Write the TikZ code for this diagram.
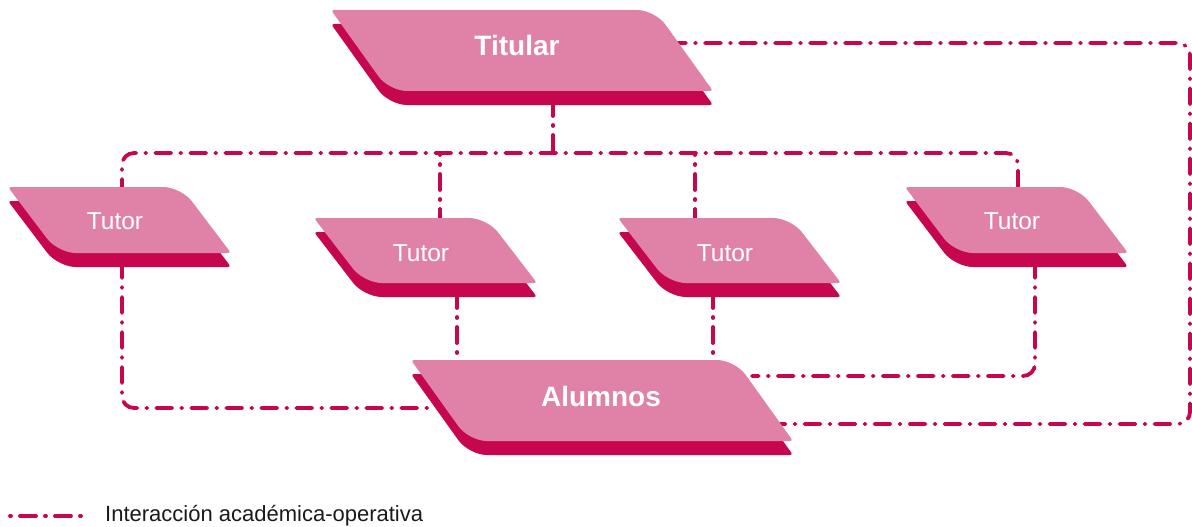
\documentclass[tikz,border=0pt]{standalone}
\usepackage{fontspec}
\setmainfont{Liberation Sans}
\definecolor{face}{HTML}{E082A7}
\definecolor{deep}{HTML}{C6064F}
\definecolor{ink}{HTML}{1A1A1A}
\tikzset{
  conn/.style={draw=deep, line width=3.8pt, line cap=round,
    dash pattern=on 16pt off 9pt on 1pt off 9pt, rounded corners=12pt},
  bigtxt/.style={text=white, font=\fontsize{28}{30}\selectfont\bfseries, inner sep=0pt},
  smalltxt/.style={text=white, font=\fontsize{24.5}{26}\selectfont, inner sep=0pt},
  legtxt/.style={text=ink, font=\fontsize{22}{24}\selectfont, inner sep=0pt, anchor=west}
}
% #1 x, #2 y (top), #3 top edge length, #4 height, #5 slant, #6 depth
\newcommand\paral[6]{%
  \fill[deep] ({#1+#3/2},{#2+#6}) [rounded corners=18pt] -- ({#1+#3},{#2+#6})
    [rounded corners=3pt] -- ({#1+#3+#5},{#2+#4+#6})
    [rounded corners=18pt] -- ({#1+#5},{#2+#4+#6})
    [rounded corners=3pt] -- ({#1},{#2+#6}) -- cycle;
  \fill[face] ({#1+#3/2},{#2}) [rounded corners=18pt] -- ({#1+#3},{#2})
    [rounded corners=3pt] -- ({#1+#3+#5},{#2+#4})
    [rounded corners=18pt] -- ({#1+#5},{#2+#4})
    [rounded corners=3pt] -- ({#1},{#2}) -- cycle;
}
\begin{document}
\begin{tikzpicture}[x=1pt, y=-1pt]
\useasboundingbox (0,0) rectangle (1192,527);
% connector anchor points
\coordinate (titS) at (553,100);
\coordinate (titE) at (670,43);
\coordinate (bus) at (553,153);
\coordinate (t1N) at (122,195);
\coordinate (t2N) at (440,225);
\coordinate (t3N) at (695,225);
\coordinate (t4N) at (1018,195);
\coordinate (t1S) at (122,262);
\coordinate (t2S) at (457,292);
\coordinate (t3S) at (713,292);
\coordinate (t4S) at (1035,262);
\coordinate (aluN2) at (457,368);
\coordinate (aluN3) at (713,368);
\coordinate (aluW) at (436,408);
\coordinate (aluE1) at (752,376);
\coordinate (aluE2) at (778,424);
\coordinate (farR) at (1190,43);
\coordinate (farRB) at (1190,424);
\coordinate (legA) at (10,516);
\coordinate (legB) at (81,516);
% connectors
\draw[conn] (t1N) |- (bus) -| (t4N);
\draw[conn] (titS) -- (bus);
\draw[conn] (t2N) -- (t2N |- bus);
\draw[conn] (t3N) -- (t3N |- bus);
\draw[conn] (t1S) |- (aluW);
\draw[conn] (t2S) -- (aluN2);
\draw[conn] (t3S) -- (aluN3);
\draw[conn] (t4S) |- (aluE1);
\draw[conn] (titE) -- (farR) -- (farRB) -- (aluE2);
% shapes
\paral{331}{10}{324}{81}{58}{14}
\paral{411}{360}{324}{81}{58}{14}
\paral{8}{187}{173}{66}{50}{14}
\paral{314}{218}{173}{65}{50}{14}
\paral{618}{218}{173}{65}{50}{14}
\paral{905}{187}{173}{66}{50}{14}
% labels
\node[bigtxt] (tit) at (517,45) {Titular};
\node[bigtxt] (alu) at (601,396) {Alumnos};
\node[smalltxt] (tut1) at (115,221) {Tutor};
\node[smalltxt] (tut2) at (421,253) {Tutor};
\node[smalltxt] (tut3) at (725,253) {Tutor};
\node[smalltxt] (tut4) at (1012,221) {Tutor};
% legend
\draw[conn, dash phase=25pt] (legA) -- (legB);
\node[legtxt] (leg) at (105,516) {Interacción académica-operativa};
\end{tikzpicture}
\end{document}
